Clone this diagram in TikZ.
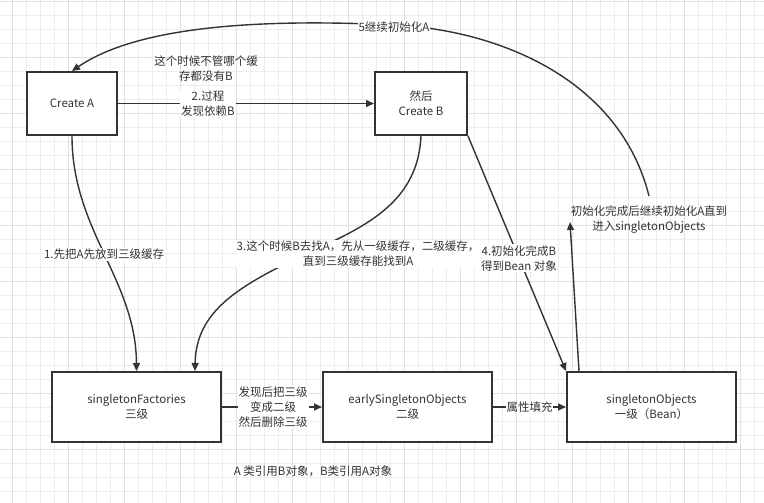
\documentclass[tikz,border=0pt]{standalone}
\usepackage{fontspec}
\setmainfont{Noto Sans CJK SC}
\usetikzlibrary{arrows.meta,calc}
\definecolor{ink}{HTML}{333333}
\definecolor{gridminor}{HTML}{EDEDED}
\definecolor{gridmajor}{HTML}{E0E0E0}
\tikzset{
  box/.style={draw=ink,line width=2pt,fill=white,minimum width=#1,inner sep=2pt,align=center,text=ink},
  conn/.style={draw=ink,line width=1.4pt,-{Triangle[length=8pt,width=7pt]}},
  plain/.style={draw=ink,line width=1.4pt},
  lbl/.style={fill=white,inner sep=1pt,align=center,text=ink},
  free/.style={inner sep=1pt,align=center,text=ink},
}
\begin{document}
\begin{tikzpicture}[x=1pt,y=-1pt,font=\fontsize{11.5}{15}\selectfont]
\useasboundingbox (0,0) rectangle (764,503);
\fill[white] (0,0) rectangle (764,503);
% grid
\foreach \i in {0,...,55} {
  \draw[gridminor,line width=0.8pt] ({-1.3+14*\i},0) -- ({-1.3+14*\i},503);
}
\foreach \j in {0,...,36} {
  \draw[gridminor,line width=0.8pt] (0,{1.3+14*\j}) -- (764,{1.3+14*\j});
}
\foreach \i in {0,...,13} {
  \draw[gridmajor,line width=0.9pt] ({12.7+56*\i},0) -- ({12.7+56*\i},503);
}
\foreach \j in {0,...,9} {
  \draw[gridmajor,line width=0.9pt] (0,{1.3+56*\j}) -- (764,{1.3+56*\j});
}

% boxes
\node[box=90pt,minimum height=63pt] (cA) at (72,103.5) {Create A};
\node[box=92pt,minimum height=63pt] (cB) at (421,103.5) {然后\\Create B};
\node[box=169pt,minimum height=70pt] (sf) at (136.5,407) {singletonFactories\\三级};
\node[box=169pt,minimum height=70pt] (es) at (407.5,407) {earlySingletonObjects\\二级};
\node[box=169pt,minimum height=70pt] (so) at (651.5,407) {singletonObjects\\一级（Bean）};

% free texts
\node[free] (t0) at (206,69) {这个时候不管哪个缓\\存都没有B};
\node[free] (initT) at (649,220) {初始化完成后继续初始化A直到\\进入singletonObjects};
\node[free] (note) at (313,471) {A 类引用B对象，B类引用A对象};

\coordinate (initTop) at (649,196);
\coordinate (initIn) at (570,222);
\coordinate (soUp) at ($(so.north west)+(13,0)$);

% 2. A -> B
\draw[conn] (cA.east) -- (cB.west)
  node[lbl,midway,xshift=-38pt] {2.过程\\发现依赖B};

% 1. A -> singletonFactories
\draw[conn] (cA.south) .. controls (72,230) and (136,280) .. (sf.north)
  node[lbl,pos=0.5] {1.先把A先放到三级缓存};

% 3. B -> singletonFactories
\draw[conn] (cB.south) .. controls (418,200) and (370,225) .. (310,252)
  .. controls (240,285) and (196,310) .. ($(sf.north)+(58.5,0)$);
\node[lbl] (l3) at (358,254) {3.这个时候B去找A，先从一级缓存，二级缓存，\\直到三级缓存能找到A};

% 4. B -> singletonObjects
\draw[conn] (cB.south east) -- (so.north west)
  node[lbl,pos=0.52] {4.初始化完成B\\得到Bean 对象};

% singletonObjects -> init text
\draw[conn] (soUp) -- (initIn);

% 5. init text -> A
\draw[conn] (initTop) .. controls (620,80) and (500,30) .. (394,25)
  .. controls (250,18) and (135,28) .. (cA.north);
\node[lbl] (l5) at (394,27) {5继续初始化A};

% sf -> es
\draw[conn] (sf.east) -- (es.west)
  node[lbl,midway,xshift=1pt] {发现后把三级\\变成二级\\然后删除三级};

% es -> so
\draw[conn] (es.east) -- (so.west)
  node[lbl,midway,inner sep=0.5pt] {属性填充};
\end{tikzpicture}
\end{document}
